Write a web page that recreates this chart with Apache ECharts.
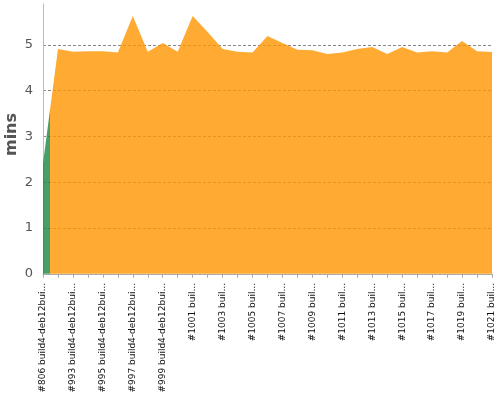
<!DOCTYPE html>
<html>
<head>
<meta charset="utf-8">
<script src="https://cdn.jsdelivr.net/npm/echarts@6/dist/echarts.min.js"></script>
<style>html,body{margin:0;padding:0;background:#fff}#c{width:500px;height:400px}</style>
</head>
<body>
<div id="c"></div>
<script>
const categories = [
  "#806 build4-deb12bui...", "#992 build4-deb12bui...", "#993 build4-deb12bui...", "#994 build4-deb12bui...",
  "#995 build4-deb12bui...", "#996 build4-deb12bui...", "#997 build4-deb12bui...", "#998 build4-deb12bui...",
  "#999 build4-deb12bui...", "#1000 buil...", "#1001 buil...", "#1002 buil...", "#1003 buil...",
  "#1004 buil...", "#1005 buil...", "#1006 buil...", "#1007 buil...", "#1008 buil...", "#1009 buil...",
  "#1010 buil...", "#1011 buil...", "#1012 buil...", "#1013 buil...", "#1014 buil...", "#1015 buil...",
  "#1016 buil...", "#1017 buil...", "#1018 buil...", "#1019 buil...", "#1020 buil...", "#1021 buil..."
];
const durationMins = [
  2.41, 4.91, 4.85, 4.86, 4.86, 4.83, 5.63, 4.85, 5.04, 4.85, 5.63, 5.28, 4.91, 4.85, 4.83, 5.19,
  5.04, 4.89, 4.88, 4.80, 4.83, 4.91, 4.95, 4.80, 4.95, 4.83, 4.86, 4.83, 5.08, 4.86, 4.84
];
// build result per category: first build succeeded, the rest were unstable
const results = ["SUCCESS"].concat(new Array(30).fill("UNSTABLE"));
const resultColors = {SUCCESS: '#1A8642', UNSTABLE: '#FF9500'};

// gradient that switches colour halfway between builds of different results
const n = categories.length;
const stops = [];
for (let i = 0; i < n; i++) {
  const c = resultColors[results[i]];
  const a = i === 0 ? 0 : (i - 0.5) / (n - 1);
  const b = i === n - 1 ? 1 : (i + 0.5) / (n - 1);
  stops.push({offset: a, color: c}, {offset: b, color: c});
}

const chart = echarts.init(document.getElementById('c'), null, {renderer: 'canvas'});
chart.setOption({
  animation: false,
  textStyle: {fontFamily: 'DejaVu Sans'},
  grid: {left: 43, right: 8, top: 4, bottom: 123, containLabel: false, outerBoundsMode: 'none'},
  xAxis: {
    type: 'category',
    data: categories,
    boundaryGap: false,
    axisLine: {lineStyle: {color: '#aaa'}},
    axisTick: {show: true, interval: 0, length: 4, lineStyle: {color: '#aaa'}},
    axisLabel: {interval: 1, rotate: 90, fontSize: 9, color: '#111', margin: 6, fontFamily: 'DejaVu Sans'},
    splitLine: {show: false}
  },
  yAxis: {
    type: 'value',
    min: -0.07,
    max: 5.89,
    name: 'mins',
    nameLocation: 'middle',
    nameRotate: 90,
    nameGap: 23,
    nameMoveOverlap: false,
    nameTextStyle: {fontSize: 16, fontWeight: 'bold', color: '#555', fontFamily: 'DejaVu Sans', padding: [0, 0, 0, 12]},
    axisLine: {show: true, lineStyle: {color: '#bbb'}},
    axisTick: {show: false},
    axisLabel: {fontSize: 13, color: '#555', margin: 10, showMinLabel: false, showMaxLabel: false},
    splitLine: {show: true, showMinLine: false, showMaxLine: false, lineStyle: {color: '#888', type: [3, 2]}}
  },
  series: [{
    type: 'line',
    data: durationMins,
    showSymbol: false,
    symbol: 'none',
    lineStyle: {width: 0},
    areaStyle: {opacity: 0.8, color: new echarts.graphic.LinearGradient(0, 0, 1, 0, stops)}
  }]
});
</script>
</body>
</html>
